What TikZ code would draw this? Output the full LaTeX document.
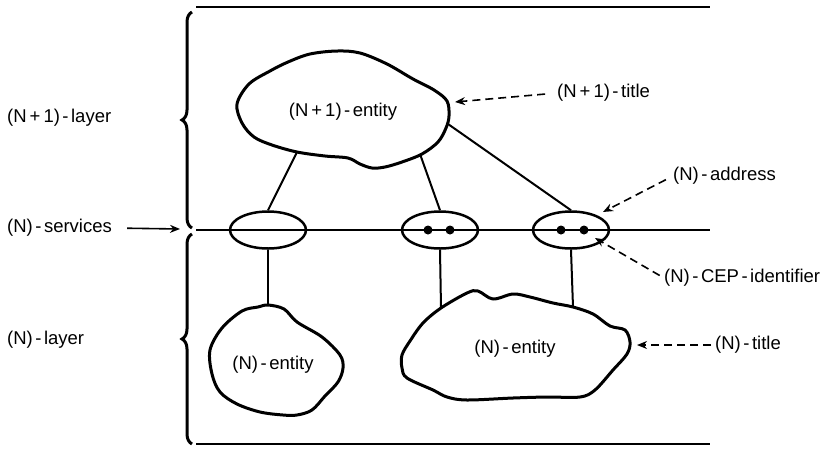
\documentclass[tikz,border=0pt]{standalone}
\usepackage{fontspec}
\setmainfont{Liberation Sans}
\usetikzlibrary{shapes.geometric,arrows.meta,decorations.pathreplacing}
\newcommand\hy{\kern2.5pt-\kern2.5pt}
\newcommand\pl{\kern3pt+\kern3pt}
\begin{document}
\begin{tikzpicture}[x=1pt,y=-1pt,
 lbl/.style={font=\fontsize{18.5}{22}\selectfont, inner sep=0pt},
 rule/.style={line width=2pt},
 blob/.style={line width=3pt, line join=round},
 sap/.style={ellipse, draw, line width=2.5pt, inner sep=0pt, minimum width=76pt, minimum height=37pt},
 link/.style={line width=2pt},
 dashptr/.style={line width=1.6pt, dash pattern=on 8pt off 5pt, -{Stealth[length=10pt,width=8pt]}},
 solidptr/.style={line width=1.6pt, -{Stealth[length=10pt,width=8pt]}},
 dotmark/.style={circle, fill, inner sep=0pt, minimum size=9pt},
 bracestyle/.style={line width=3pt, decorate, decoration={brace, amplitude=10pt}}]
\useasboundingbox (0,0) rectangle (833,448);

% horizontal rules
\draw[rule] (196,7) -- (710,7);
\draw[rule] (196,444) -- (710,444);
\coordinate (ml) at (196,230);
\coordinate (mr) at (710,230);
\draw[rule] (ml) -- (mr);

% braces
\draw[bracestyle] (192,228) -- (192,12);
\draw[bracestyle] (192,444) -- (192,234);

% service access points
\node[sap] (e1) at (268,230) {};
\node[sap] (e2) at (440,230) {};
\node[sap] (e3) at (571,230) {};
\node[dotmark] (d1) at (428,230) {};
\node[dotmark] (d2) at (450,230) {};
\node[dotmark] (d3) at (561,230) {};
\node[dotmark] (d4) at (584,230) {};

% (N+1)-entity blob
\draw[blob] plot[smooth cycle, tension=0.55] coordinates {
 (237,104) (249,84) (270,71) (288,62) (310,54) (337,51) (360,53) (387,64)
 (413,79) (434,90) (447,101) (449,116) (446,128) (438,142) (422,154)
 (402,162) (385,167) (372,168) (360,164) (348,158) (325,156) (297,152)
 (272,145) (254,137) (242,123)};
% small (N)-entity blob
\draw[blob] plot[smooth cycle, tension=0.55] coordinates {
 (268,305) (284,309) (297,322) (322,337) (340,355) (343,368) (338,382)
 (325,396) (312,410) (297,415) (283,415) (260,412) (237,404) (220,392)
 (212,374) (210,350) (222,328) (242,311) (258,307)};
% large (N)-entity blob
\draw[blob] plot[smooth cycle, tension=0.55] coordinates {
 (441,308) (467,293) (478,291) (493,299) (513,294) (530,297) (553,303)
 (573,307) (593,314) (610,326) (625,330) (630,342) (627,354) (613,370)
 (595,390) (580,397) (547,397) (513,398) (467,400) (447,397) (433,390)
 (407,378) (402,368) (402,355) (410,341) (423,323)};

\coordinate (a1) at (297,152);
\coordinate (a2) at (420,154);
\coordinate (a3) at (448,124);
\coordinate (b1) at (268,305);
\coordinate (c1) at (441,308);
\coordinate (c2) at (573,307);

\draw[link] (a1) -- (e1.north);
\draw[link] (a2) -- (e2.north);
\draw[link] (a3) -- (e3.north);
\draw[link] (e1.south) -- (b1);
\draw[link] (e2.south) -- (c1);
\draw[link] (e3.south) -- (c2);

% entity texts
\node[lbl] (tA) at (343,112) {(N\pl1)\hy entity};
\node[lbl] (tB) at (273,365) {(N)\hy entity};
\node[lbl] (tC) at (515,349) {(N)\hy entity};

% left labels
\node[lbl, anchor=west] (l1) at (7,118) {(N\pl1)\hy layer};
\node[lbl, anchor=west] (l2) at (7,228) {(N)\hy services};
\node[lbl, anchor=west] (l3) at (7,340) {(N)\hy layer};
\coordinate (sv) at (180,229);
\draw[solidptr, shorten <=15pt] (l2.east) -- (sv);

% right labels
\node[lbl, anchor=west] (r1) at (557,93) {(N\pl1)\hy title};
\node[lbl, anchor=west] (r2) at (673,176) {(N)\hy address};
\node[lbl, anchor=west] (r3) at (664,278) {(N)\hy CEP\hy identifier};
\node[lbl, anchor=west] (r4) at (715,345) {(N)\hy title};
\coordinate (p1) at (455,102);
\coordinate (p2) at (603,212);
\coordinate (p3) at (595,238);
\coordinate (p4) at (637,345);
\draw[dashptr, shorten <=12pt] (r1.west) -- (p1);
\draw[dashptr, shorten <=8pt] (r2.west) -- (p2);
\draw[dashptr, shorten <=5pt] (r3.west) -- (p3);
\draw[dashptr, shorten <=4pt] (r4.west) -- (p4);
\end{tikzpicture}
\end{document}
